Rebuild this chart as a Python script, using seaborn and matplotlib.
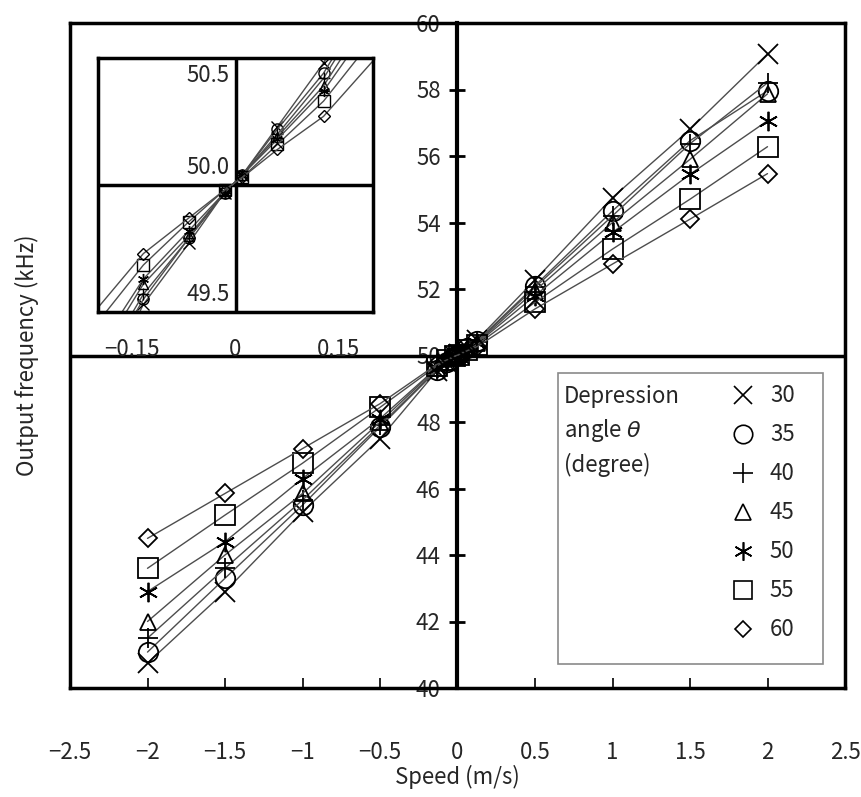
import numpy as np
import pandas as pd
import matplotlib
matplotlib.use("Agg")
import matplotlib.pyplot as plt
import seaborn as sns
from matplotlib.lines import Line2D
from matplotlib.patches import Rectangle

# -------------------------------------------------
# DATA
# -------------------------------------------------
speed = [-2, -1.5, -1, -0.5, -0.134, -0.068, -0.016, 0.01, 0.061, 0.128, 0.5, 1, 1.5, 2]

angles = [30, 35, 40, 45, 50, 55, 60]

freq_30 = [40.75, 42.9, 45.3, 47.5, 49.53, 49.77, 49.97, 50.04, 50.23, 50.48, 52.27, 54.75, 56.8, 59.07]
freq_35 = [41.08, 43.3, 45.5, 47.85, 49.55, 49.79, 49.97, 50.04, 50.22, 50.44, 52.1, 54.35, 56.46, 57.96]
freq_40 = [41.5, 43.6, 45.65, 47.9, 49.57, 49.79, 49.97, 50.04, 50.2, 50.42, 52.05, 54.2, 56.37, 58.2]
freq_45 = [42.0, 44.0, 45.85, 48.0, 49.61, 49.8, 49.97, 50.04, 50.19, 50.39, 51.95, 54.0, 55.9, 57.87]
freq_50 = [42.9, 44.4, 46.3, 48.1, 49.63, 49.82, 49.97, 50.04, 50.18, 50.37, 51.8, 53.7, 55.45, 57.06]
freq_55 = [43.6, 45.2, 46.76, 48.44, 49.685, 49.855, 49.98, 50.03, 50.16, 50.33, 51.6, 53.2, 54.7, 56.28]
freq_60 = [44.5, 45.85, 47.2, 48.55, 49.73, 49.87, 49.98, 50.03, 50.14, 50.27, 51.4, 52.75, 54.1, 55.47]

freqs = [freq_30, freq_35, freq_40, freq_45, freq_50, freq_55, freq_60]

x_ticks = [-2.5, -2, -1.5, -1, -0.5, 0, 0.5, 1, 1.5, 2, 2.5]
x_ticklabels = ["\u22122.5", "\u22122", "\u22121.5", "\u22121", "\u22120.5", "0", "0.5", "1", "1.5", "2", "2.5"]
y_ticks = [40, 42, 44, 46, 48, 50, 52, 54, 56, 58, 60]

inset_xticks = [-0.15, 0, 0.15]
inset_xticklabels = ["\u22120.15", "0", "0.15"]

# estilo de marcador por angulo (marcador, tamano principal, tamano inset)
markers = {30: ("x", 14, 8), 35: ("o", 14, 8), 40: ("+", 15, 9), 45: ("^", 12, 7),
           50: ((6, 2, 0), 14, 8), 55: ("s", 14, 8), 60: ("D", 9, 6)}

df = pd.DataFrame({
    "speed": np.tile(speed, len(angles)),
    "freq": np.concatenate(freqs),
    "angle": np.repeat(angles, len(speed)),
})

# -------------------------------------------------
# ESTILO
# -------------------------------------------------
sns.set_style("white")
plt.rcParams["font.family"] = ["Noto Sans CJK JP", "DejaVu Sans"]
plt.rcParams["axes.unicode_minus"] = False
FS = 16
LINE_COLOR = "#4d4d4d"

fig = plt.figure(figsize=(8.61, 7.97), dpi=100)
ax = fig.add_axes([70 / 861, 1 - 688 / 797, 775 / 861, 665 / 797])


def dibujar(axis, size_idx, mew):
    for ang in angles:
        sub = df[df["angle"] == ang]
        mk = markers[ang]
        sns.lineplot(data=sub, x="speed", y="freq", ax=axis, color=LINE_COLOR,
                     linewidth=1.0, marker=mk[0], markersize=mk[size_idx],
                     markerfacecolor="none", markeredgecolor="black",
                     markeredgewidth=mew, legend=False, clip_on=True)


# -------------------------------------------------
# GRAFICO PRINCIPAL
# -------------------------------------------------
dibujar(ax, 1, 1.3)
ax.set_xlim(-2.5, 2.5)
ax.set_ylim(40, 60)
ax.axhline(50, color="black", linewidth=2.5, zorder=1)

for s in ax.spines.values():
    s.set_visible(True)
    s.set_color("black")
    s.set_linewidth(2.5)

ax.set_xticks(x_ticks)
ax.set_xticklabels(x_ticklabels, fontsize=FS)
ax.tick_params(axis="x", direction="in", length=7, width=1.2, color="black",
               pad=38, bottom=True)
ax.tick_params(axis="y", left=False, labelleft=False)
ax.set_xlabel("Speed (m/s)", fontsize=FS, labelpad=1)
ax.set_ylabel("Output frequency (kHz)", fontsize=FS, labelpad=22)

# eje y en el centro (x = 0)
sec = ax.secondary_yaxis(0.5)
sec.set_alignment("left")
sec.set_yticks(y_ticks)
sec.set_yticklabels([str(v) for v in y_ticks], fontsize=FS)
sec.tick_params(axis="y", direction="inout", length=12, width=2, color="black", pad=6)
sec.spines["left"].set_linewidth(3)
sec.spines["left"].set_color("black")

# leyenda
ax.add_patch(Rectangle((0.630, 0.036), 0.342, 0.438, transform=ax.transAxes,
                       facecolor="white", edgecolor="#8a8a8a", linewidth=1.2, zorder=4))
ax.text(0.637, 0.455, "Depression\nangle $\\theta$\n(degree)", transform=ax.transAxes,
        fontsize=FS, va="top", ha="left", linespacing=1.45, zorder=5)
handles = [Line2D([], [], linestyle="none", marker=markers[a][0], markersize=markers[a][1] * 0.95,
                  markerfacecolor="none", markeredgecolor="black", markeredgewidth=1.2)
           for a in angles]
leg = ax.legend(handles, [str(a) for a in angles], loc="upper left",
                bbox_to_anchor=(0.84, 0.47), frameon=False, fontsize=FS,
                handlelength=1.2, handletextpad=0.6, labelspacing=0.72, borderaxespad=0)
leg.set_zorder(6)

# -------------------------------------------------
# INSET
# -------------------------------------------------
ins = fig.add_axes([98 / 861, 1 - 312 / 797, 275 / 861, 254 / 797])
ins.set_facecolor("white")
dibujar(ins, 2, 1.0)
ins.set_xlim(-0.2, 0.2)
ins.set_ylim(49.5, 50.5)
ins.axhline(50, color="black", linewidth=2.5, zorder=1)
ins.axvline(0, color="black", linewidth=2.5, zorder=1)
for s in ins.spines.values():
    s.set_visible(True)
    s.set_color("black")
    s.set_linewidth(2.5)
ins.set_xticks(inset_xticks)
ins.set_xticklabels(inset_xticklabels, fontsize=FS)
ins.tick_params(axis="x", length=0, pad=19)
ins.set_yticks([])
ins.set_xlabel("")
ins.set_ylabel("")
ins.annotate("50.5", xy=(0, 50.5), xytext=(-4, -4), textcoords="offset points",
             ha="right", va="top", fontsize=FS)
ins.annotate("50.0", xy=(0, 50.0), xytext=(-4, 4), textcoords="offset points",
             ha="right", va="bottom", fontsize=FS)
ins.annotate("49.5", xy=(0, 49.5), xytext=(-4, 4), textcoords="offset points",
             ha="right", va="bottom", fontsize=FS)

fig.savefig("out.png", dpi=100)
